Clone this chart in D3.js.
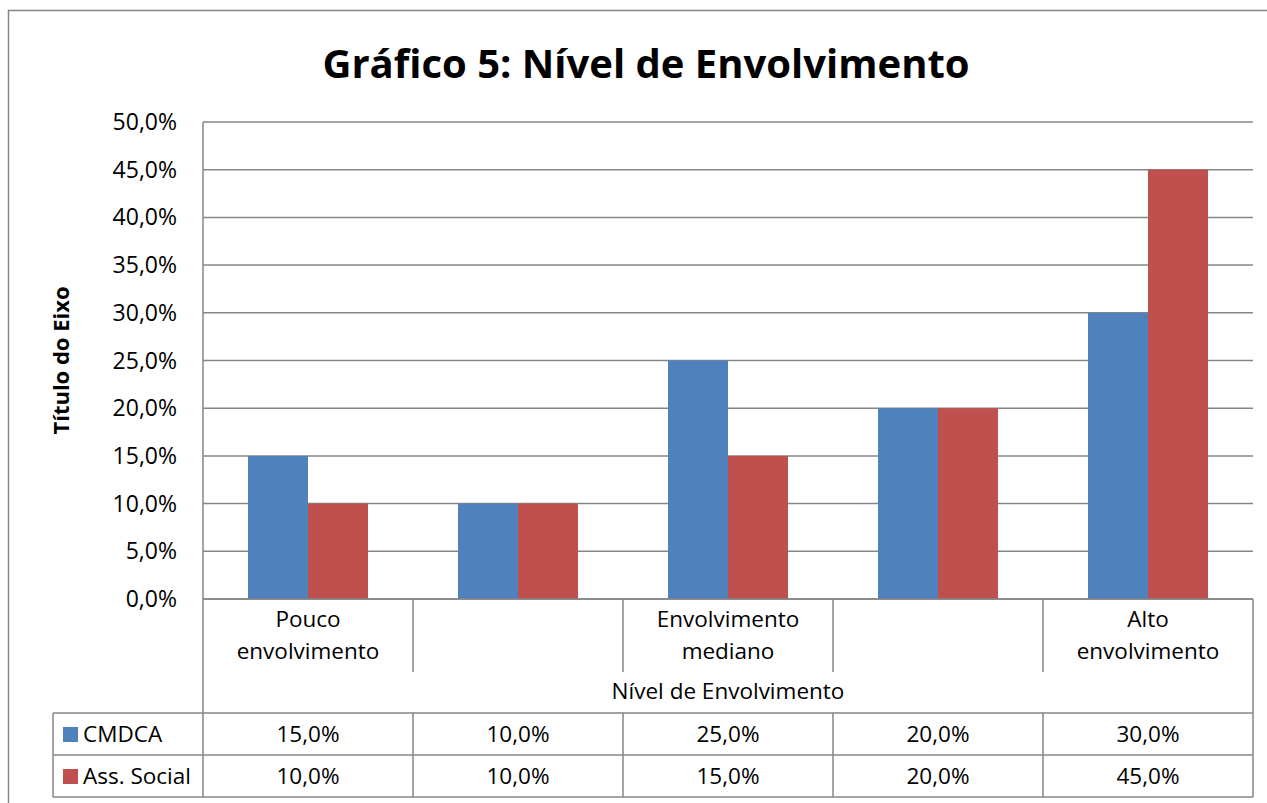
<!DOCTYPE html>
<html>
<head>
<meta charset="utf-8">
<script src="https://cdn.jsdelivr.net/npm/d3@7"></script>
<style>
  body { margin: 0; background: #fff; }
  text { font-family: "Open Sans", "DejaVu Sans", sans-serif; fill: #000; }
</style>
</head>
<body>
<div id="chart"></div>
<script>
const categories = ["Pouco envolvimento", "", "Envolvimento mediano", "", "Alto envolvimento"];
const categoryLines = [["Pouco", "envolvimento"], [], ["Envolvimento", "mediano"], [], ["Alto", "envolvimento"]];
const seriesNames = ["CMDCA", "Ass. Social"];
const cmdca = [15, 10, 25, 20, 30];
const assSocial = [10, 10, 15, 20, 45];
const seriesColors = ["#4F81BD", "#C0504D"];
const yTicks = [0, 5, 10, 15, 20, 25, 30, 35, 40, 45, 50];

const width = 1267, height = 803;
const plot = { left: 203, right: 1253, top: 122, bottom: 599 };
const gridColor = "#868686";
const fs = "22.5px";
const fmt = v => v.toFixed(1).replace(".", ",") + "%";

const svg = d3.select("#chart").append("svg")
    .attr("width", width)
    .attr("height", height);

// outer frame (cropped on right and bottom)
svg.append("rect")
    .attr("x", 8.5).attr("y", 10.5)
    .attr("width", 1300).attr("height", 900)
    .attr("fill", "none")
    .attr("stroke", gridColor)
    .attr("stroke-width", 1.5);

const keys = categories.map((c, i) => "c" + i);

const x0 = d3.scaleBand()
    .domain(keys)
    .range([plot.left, plot.right])
    .padding(0);

const x1 = d3.scaleBand()
    .domain(seriesNames)
    .range([0, x0.bandwidth()])
    .paddingInner(0)
    .paddingOuter(0.75);

const y = d3.scaleLinear()
    .domain([0, 50])
    .range([plot.bottom, plot.top]);

// gridlines
svg.append("g")
    .selectAll("line")
    .data(yTicks)
    .join("line")
    .attr("x1", plot.left).attr("x2", plot.right)
    .attr("y1", d => y(d)).attr("y2", d => y(d))
    .attr("stroke", gridColor)
    .attr("stroke-width", 1.5);

// y tick labels
svg.append("g")
    .selectAll("text")
    .data(yTicks)
    .join("text")
    .attr("x", 177)
    .attr("y", d => y(d))
    .attr("dy", "0.35em")
    .attr("text-anchor", "end")
    .style("font-size", "23px")
    .text(d => fmt(d));

// bars
const series = [cmdca, assSocial];
const bars = svg.append("g");
series.forEach((vals, s) => {
    bars.selectAll(null)
        .data(vals)
        .join("rect")
        .attr("x", (d, i) => x0(keys[i]) + x1(seriesNames[s]))
        .attr("y", d => y(d))
        .attr("width", x1.bandwidth())
        .attr("height", d => y(0) - y(d))
        .attr("fill", seriesColors[s]);
});

// axis lines
const lines = svg.append("g").attr("stroke", gridColor).attr("stroke-width", 1.5);
lines.append("line").attr("x1", plot.left).attr("x2", plot.left).attr("y1", plot.top).attr("y2", 797);
lines.append("line").attr("x1", plot.left).attr("x2", plot.right).attr("y1", plot.bottom).attr("y2", plot.bottom);
lines.append("line").attr("x1", plot.right).attr("x2", plot.right).attr("y1", plot.bottom).attr("y2", 797);

// category separators
keys.slice(1).forEach(k => {
    lines.append("line")
        .attr("x1", x0(k)).attr("x2", x0(k))
        .attr("y1", plot.bottom).attr("y2", 672);
});

// data table grid
const tableLeft = 53;
const rowY = [713, 755, 797];
rowY.forEach(ry => {
    lines.append("line")
        .attr("x1", tableLeft).attr("x2", plot.right)
        .attr("y1", ry).attr("y2", ry);
});
lines.append("line").attr("x1", tableLeft).attr("x2", tableLeft).attr("y1", 713).attr("y2", 797);
keys.slice(1).forEach(k => {
    lines.append("line")
        .attr("x1", x0(k)).attr("x2", x0(k))
        .attr("y1", 713).attr("y2", 797);
});

// category labels
keys.forEach((k, i) => {
    const t = svg.append("text")
        .attr("text-anchor", "middle")
        .style("font-size", fs);
    categoryLines[i].forEach((ln, j) => {
        t.append("tspan")
            .attr("x", x0(k) + x0.bandwidth() / 2)
            .attr("y", 627 + j * 32)
            .text(ln);
    });
});

// x axis title
svg.append("text")
    .attr("x", (plot.left + plot.right) / 2)
    .attr("y", 699)
    .attr("text-anchor", "middle")
    .style("font-size", fs)
    .text("Nível de Envolvimento");

// legend keys and values in the table
series.forEach((vals, s) => {
    const cy = (rowY[s] + rowY[s + 1]) / 2;
    svg.append("rect")
        .attr("x", 63).attr("y", cy - 7)
        .attr("width", 15).attr("height", 15)
        .attr("fill", seriesColors[s]);
    svg.append("text")
        .attr("x", 83).attr("y", cy)
        .attr("dy", "0.35em")
        .style("font-size", fs)
        .text(seriesNames[s]);
    svg.append("g")
        .selectAll("text")
        .data(vals)
        .join("text")
        .attr("x", (d, i) => x0(keys[i]) + x0.bandwidth() / 2)
        .attr("y", cy)
        .attr("dy", "0.35em")
        .attr("text-anchor", "middle")
        .style("font-size", fs)
        .text(d => fmt(d));
});

// y axis title
svg.append("text")
    .attr("transform", `translate(69, ${(plot.top + plot.bottom) / 2}) rotate(-90)`)
    .attr("text-anchor", "middle")
    .style("font-size", "22px")
    .style("font-weight", "bold")
    .text("Título do Eixo");

// chart title
svg.append("text")
    .attr("x", 646)
    .attr("y", 78)
    .attr("text-anchor", "middle")
    .style("font-size", "40px")
    .style("font-weight", "bold")
    .text("Gráfico 5: Nível de Envolvimento");
</script>
</body>
</html>
